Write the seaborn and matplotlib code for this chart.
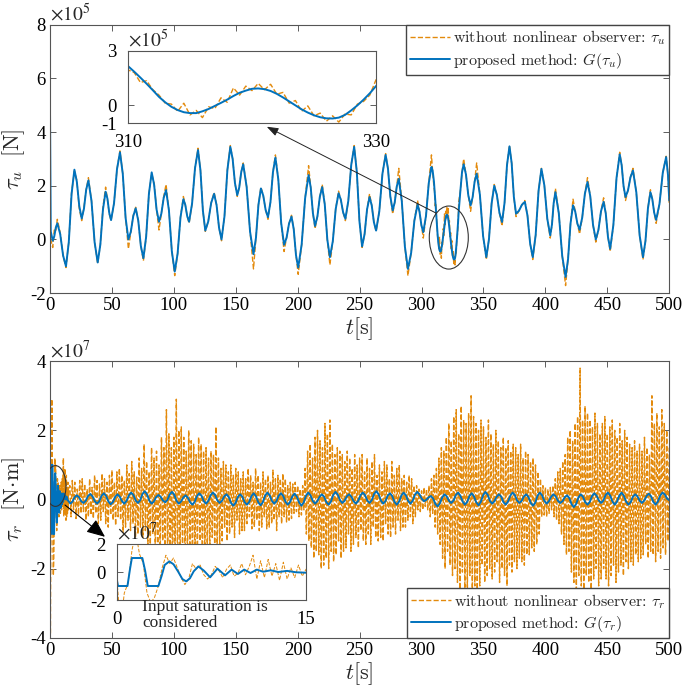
import numpy as np
import matplotlib
matplotlib.use("Agg")
import matplotlib.pyplot as plt
import seaborn as sns
from matplotlib.patches import Ellipse

sns.set_style("ticks")
plt.rcParams['font.family'] = ['Liberation Serif', 'DejaVu Serif']
plt.rcParams['mathtext.fontset'] = 'cm'
plt.rcParams['axes.unicode_minus'] = False

ORANGE = '#E38A0C'
BLUE = '#0072BD'

# ---------------- top panel: tau_u (units of 1e5 N), both series share the time grid ----------------
t_u = [
    0, 0.6, 2.2, 3.43, 4.67, 5.9, 8.23, 10.57, 12.9, 15.17,
    17.43, 19.7, 21.67, 23.63, 25.6, 27.4, 29.2, 31, 33.5, 36,
    38.5, 40.63, 42.77, 44.9, 46.37, 47.83, 49.3, 51.7, 54.1, 56.5,
    58.77, 61.03, 63.3, 65.27, 67.23, 69.2, 71.27, 73.33, 75.4, 77.63,
    79.87, 82.1, 84.07, 86.03, 88, 89.9, 91.8, 93.7, 96.03, 98.37,
    100.7, 103.03, 105.37, 107.7, 109.23, 110.77, 112.3, 114.7, 117.1, 119.5,
    121.47, 123.43, 125.4, 127.77, 130.13, 132.5, 134.5, 136.5, 138.5, 140.87,
    143.23, 145.6, 147.47, 149.33, 151.2, 152.8, 154.4, 156, 158.77, 161.53,
    164.3, 166.3, 168.3, 170.3, 172.2, 174.1, 176, 178, 180, 182,
    184.33, 186.67, 189, 191, 193, 195, 196.8, 198.6, 200.4, 203.2,
    206, 208.8, 210.53, 212.27, 214, 215.93, 217.87, 219.8, 221.87, 223.93,
    226, 228.33, 230.67, 233, 234.83, 236.67, 238.5, 240.87, 243.23, 245.6,
    247.73, 249.87, 252, 254, 256, 258, 259.77, 261.53, 263.3, 265.87,
    268.43, 271, 272.9, 274.8, 276.7, 278.33, 279.97, 281.6, 284.07, 286.53,
    289, 291.6, 294.2, 296.8, 298.33, 299.87, 301.4, 303.6, 305.8, 308,
    309, 310.0, 310.5, 311.0, 311.5, 312.0, 312.5, 313.0, 313.5, 314.0,
    314.5, 315.0, 315.5, 316.0, 316.5, 317.0, 317.5, 318.0, 318.5, 319.0,
    319.5, 320.0, 320.5, 321.0, 321.5, 322.0, 322.5, 323.0, 323.5, 324.0,
    324.5, 325.0, 325.5, 326.0, 326.5, 327.0, 327.5, 328.0, 328.5, 329.0,
    329.5, 330.0, 331.33, 332.67, 334, 335.87, 337.73, 339.6, 341.23, 342.87,
    344.5, 347.1, 349.7, 352.3, 354.43, 356.57, 358.7, 360.8, 362.9, 365,
    367, 369, 371, 372.77, 374.53, 376.3, 378.67, 381.03, 383.4, 385.53,
    387.67, 389.8, 392.13, 394.47, 396.8, 399.17, 401.53, 403.9, 405.3, 406.7,
    408.1, 410.83, 413.57, 416.3, 418.3, 420.3, 422.3, 424.07, 425.83, 427.6,
    429.73, 431.87, 434, 436.23, 438.47, 440.7, 442.8, 444.9, 447, 448.77,
    450.53, 452.3, 454.87, 457.43, 460, 461.57, 463.13, 464.7, 466.7, 468.7,
    470.7, 473.4, 476.1, 478.8, 480.8, 482.8, 484.8, 486.33, 487.87, 489.4,
    492.1, 494.8, 497.5, 499, 500]
tau_u_prop = [
    4.8, 0.3, -0.05, 0.11, 0.44, 0.6, 0.2, -0.6, -1.0, -0.1,
    1.7, 2.6, 2.15, 1.24, 0.78, 1.14, 1.85, 2.2, 1.44, -0.1,
    -0.86, -0.2, 1.12, 1.78, 1.52, 0.99, 0.72, 1.35, 2.62, 3.25,
    2.44, 0.81, 0.0, 0.29, 0.87, 1.16, 0.7, -0.24, -0.7, 0.1,
    1.7, 2.5, 2.04, 1.12, 0.66, 0.96, 1.55, 1.84, 1.08, -0.44,
    -1.2, -0.53, 0.83, 1.5, 1.29, 0.87, 0.66, 1.33, 2.66, 3.33,
    2.58, 1.08, 0.33, 0.67, 1.36, 1.7, 1.28, 0.43, 0.0, 0.86,
    2.59, 3.45, 3.0, 2.1, 1.65, 1.94, 2.51, 2.8, 1.96, 0.29,
    -0.55, 0.06, 1.29, 1.9, 1.63, 1.1, 0.83, 1.39, 2.5, 3.05,
    2.24, 0.61, -0.2, 0.06, 0.59, 0.85, 0.38, -0.58, -1.05, -0.19,
    1.54, 2.4, 1.93, 0.98, 0.5, 0.86, 1.59, 1.95, 1.3, -0.01,
    -0.66, -0.07, 1.13, 1.72, 1.48, 1.01, 0.77, 1.44, 2.78, 3.45,
    2.52, 0.67, -0.26, 0.2, 1.12, 1.58, 1.27, 0.64, 0.33, 1.04,
    2.45, 3.15, 2.63, 1.6, 1.08, 1.38, 1.97, 2.26, 1.42, -0.26,
    -1.1, -0.5, 0.7, 1.3, 1.04, 0.53, 0.27, 0.88, 2.09, 2.7,
    2.55, 2.16, 1.85, 1.52, 1.18, 0.82, 0.45, 0.15, -0.1, -0.28,
    -0.4, -0.45, -0.45, -0.35, -0.22, -0.05, 0.12, 0.3, 0.5, 0.68,
    0.8, 0.9, 0.92, 0.88, 0.78, 0.62, 0.42, 0.2, -0.02, -0.24,
    -0.42, -0.57, -0.68, -0.74, -0.75, -0.7, -0.55, -0.3, -0.02, 0.3,
    0.65, 1.05, 1.8, 2.5, 2.8, 2.42, 1.65, 1.27, 1.57, 2.16,
    2.45, 1.67, 0.12, -0.66, 0.01, 1.34, 2.0, 1.66, 0.99, 0.65,
    1.36, 2.77, 3.47, 2.84, 1.59, 0.96, 1.07, 1.29, 1.4, 0.89,
    -0.15, -0.66, 0.16, 1.81, 2.63, 2.01, 0.77, 0.15, 0.55, 1.36,
    1.76, 0.97, -0.61, -1.4, -0.73, 0.6, 1.27, 1.04, 0.59, 0.36,
    0.81, 1.7, 2.14, 1.61, 0.54, 0.0, 0.35, 1.05, 1.4, 0.96,
    0.09, -0.35, 0.53, 2.29, 3.17, 2.77, 1.98, 1.58, 1.83, 2.32,
    2.57, 1.76, 0.15, -0.66, -0.06, 1.16, 1.76, 1.5, 0.99, 0.73,
    1.32, 2.49, 3.07, 2.4, 1.45]
tau_u_obs = [
    0.3, 0.0, -0.3, 0.35, 0.3, 0.75, 0.25, -0.6, -1.05, -0.1,
    1.75, 2.55, 2.2, 1.15, 0.7, 1.2, 1.85, 2.3, 1.44, -0.1,
    -0.9, -0.2, 1.2, 1.95, 1.5, 0.95, 0.7, 1.35, 2.62, 3.3,
    2.44, 0.81, -0.35, 0.29, 0.9, 1.2, 0.7, -0.24, -0.8, 0.1,
    1.7, 2.45, 2.1, 1.12, 0.35, 0.96, 1.6, 2.05, 1.08, -0.44,
    -1.35, -0.53, 0.83, 1.6, 1.29, 0.87, 0.6, 1.33, 2.66, 3.4,
    2.58, 1.08, 0.3, 0.67, 1.36, 1.75, 1.28, 0.43, -0.05, 0.86,
    2.59, 3.5, 3.0, 2.1, 1.6, 1.94, 2.51, 2.85, 1.96, 0.29,
    -1.1, 0.06, 1.29, 1.95, 1.63, 1.1, 0.75, 1.39, 2.5, 3.15,
    2.24, 0.61, -0.45, 0.06, 0.59, 0.9, 0.38, -0.58, -1.3, -0.19,
    1.54, 2.75, 1.93, 0.98, 0.4, 0.86, 1.59, 2.05, 1.3, -0.01,
    -0.95, -0.07, 1.13, 1.8, 1.48, 1.01, 0.7, 1.44, 2.78, 3.5,
    2.52, 0.67, -0.3, 0.2, 1.12, 1.7, 1.27, 0.64, 0.3, 1.04,
    2.45, 3.2, 2.63, 1.6, 0.95, 1.38, 1.97, 2.65, 1.42, -0.26,
    -1.35, -0.5, 0.7, 1.45, 1.04, 0.53, 0.05, 0.88, 2.09, 3.15,
    2.5, 1.95, 1.8, 1.25, 1.35, 0.85, 0.55, 0.1, 0.05, -0.35,
    0.1, -0.55, -0.3, -0.7, -0.1, -0.2, 0.4, 0.15, 0.95, 0.55,
    1.05, 0.8, 1.2, 0.85, 1.15, 0.6, 0.7, 0.1, 0.25, -0.35,
    -0.05, -0.6, -0.45, -0.9, -0.6, -0.95, -0.5, -0.55, 0.05, 0.2,
    0.55, 1.4, 1.8, 2.5, 3.0, 2.42, 1.65, 1.05, 1.57, 2.16,
    2.85, 1.67, 0.12, -0.75, 0.01, 1.34, 2.05, 1.66, 0.99, 0.5,
    1.36, 2.77, 3.5, 2.84, 1.59, 0.85, 1.07, 1.29, 1.45, 0.89,
    -0.15, -0.75, 0.16, 1.81, 2.65, 2.01, 0.77, 0.05, 0.55, 1.36,
    1.9, 0.97, -0.61, -1.72, -0.73, 0.6, 1.5, 1.04, 0.59, 0.2,
    0.81, 1.7, 2.3, 1.61, 0.54, -0.1, 0.35, 1.05, 1.55, 0.96,
    0.09, -0.45, 0.53, 2.29, 3.25, 2.77, 1.98, 1.45, 1.83, 2.32,
    2.65, 1.76, 0.15, -0.75, -0.06, 1.16, 1.85, 1.5, 0.99, 0.6,
    1.32, 2.49, 3.1, 2.4, 1.3]

# ---------------- bottom panel: tau_r (units of 1e7 N.m) ----------------
t_r_prop = [
    0, 0.1, 0.85, 1.05, 1.2, 2.03, 2.25, 2.46, 3.3, 3.55,
    3.8, 4.17, 4.5, 4.85, 5.2, 5.5, 5.8, 6.1, 6.47, 6.9,
    7.4, 7.98, 8.58, 9.1, 9.6, 10.1, 10.6, 11.1, 11.6, 12.2,
    12.8, 13.5, 14.2, 15,
    16.5, 18.17, 19.83, 21.5, 23.33, 25.17, 27, 28.83, 30.67,
    32.5, 34.33, 36.17, 38, 39.83, 41.67, 43.5, 45.33, 47.17,
    49, 50.83, 52.67, 54.5, 56.33, 58.17, 60, 61.83, 63.67,
    65.5, 67.33, 69.17, 71, 72.83, 74.67, 76.5, 78.33, 80.17,
    82, 83.83, 85.67, 87.5, 89.33, 91.17, 93, 94.83, 96.67,
    98.5, 100.33, 102.17, 104, 105.83, 107.67, 109.5, 111.33, 113.17,
    115, 116.83, 118.67, 120.5, 122.33, 124.17, 126, 127.83, 129.67,
    131.5, 133.33, 135.17, 137, 138.83, 140.67, 142.5, 144.33, 146.17,
    148, 149.83, 151.67, 153.5, 155.33, 157.17, 159, 160.83, 162.67,
    164.5, 166.33, 168.17, 170, 171.83, 173.67, 175.5, 177.33, 179.17,
    181, 182.83, 184.67, 186.5, 188.33, 190.17, 192, 193.83, 195.67,
    197.5, 199.33, 201.17, 203, 204.83, 206.67, 208.5, 210.33, 212.17,
    214, 215.83, 217.67, 219.5, 221.33, 223.17, 225, 226.83, 228.67,
    230.5, 232.33, 234.17, 236, 237.83, 239.67, 241.5, 243.33, 245.17,
    247, 248.83, 250.67, 252.5, 254.33, 256.17, 258, 259.83, 261.67,
    263.5, 265.33, 267.17, 269, 270.83, 272.67, 274.5, 276.33, 278.17,
    280, 281.83, 283.67, 285.5, 287.33, 289.17, 291, 292.83, 294.67,
    296.5, 298.33, 300.17, 302, 303.83, 305.67, 307.5, 309.33, 311.17,
    313, 314.83, 316.67, 318.5, 320.33, 322.17, 324, 325.83, 327.67,
    329.5, 331.33, 333.17, 335, 336.83, 338.67, 340.5, 342.33, 344.17,
    346, 347.83, 349.67, 351.5, 353.33, 355.17, 357, 358.83, 360.67,
    362.5, 364.33, 366.17, 368, 369.83, 371.67, 373.5, 375.33, 377.17,
    379, 380.83, 382.67, 384.5, 386.33, 388.17, 390, 391.83, 393.67,
    395.5, 397.33, 399.17, 401, 402.83, 404.67, 406.5, 408.33, 410.17,
    412, 413.83, 415.67, 417.5, 419.33, 421.17, 423, 424.83, 426.67,
    428.5, 430.33, 432.17, 434, 435.83, 437.67, 439.5, 441.33, 443.17,
    445, 446.83, 448.67, 450.5, 452.33, 454.17, 456, 457.83, 459.67,
    461.5, 463.33, 465.17, 467, 468.83, 470.67, 472.5, 474.33, 476.17,
    478, 479.83, 481.67, 483.5, 485.33, 487.17, 489, 490.83, 492.67,
    494.5, 496.33, 498.17, 500]
tau_r_prop = [
    -0.5, -1.0, -1.0, 0.2, 1.0, 1.0, 0.1, -1.0, -1.0, -0.3,
    0.5, 0.76, 0.55, 0.05, -0.5, -0.67, -0.45, 0.05, 0.4, 0.1,
    -0.38, 0.24, -0.24, 0.17, -0.14, 0.17, -0.07, 0.17, 0.02, 0.12,
    0.0, 0.08, -0.02, -0.05,
    -0.12, -0.06, 0.06, 0.12, 0.07, -0.05, -0.1, -0.04, 0.1,
    0.16, 0.09, -0.05, -0.12, -0.05, 0.11, 0.18, 0.1, -0.06,
    -0.14, -0.07, 0.08, 0.15, 0.08, -0.05, -0.12, -0.04, 0.12,
    0.2, 0.13, -0.03, -0.1, -0.02, 0.16, 0.24, 0.15, -0.03,
    -0.12, -0.06, 0.07, 0.13, 0.08, -0.03, -0.08, -0.01, 0.15,
    0.22, 0.14, -0.04, -0.12, -0.06, 0.06, 0.12, 0.05, -0.08,
    -0.15, -0.07, 0.1, 0.18, 0.11, -0.05, -0.12, -0.04, 0.12,
    0.2, 0.13, -0.03, -0.1, -0.04, 0.09, 0.15, 0.07, -0.1,
    -0.18, -0.1, 0.07, 0.15, 0.08, -0.08, -0.15, -0.07, 0.1,
    0.18, 0.09, -0.08, -0.17, -0.08, 0.11, 0.2, 0.12, -0.04,
    -0.12, -0.05, 0.11, 0.18, 0.1, -0.07, -0.15, -0.07, 0.09,
    0.17, 0.08, -0.09, -0.18, -0.09, 0.11, 0.2, 0.12, -0.04,
    -0.12, -0.05, 0.08, 0.15, 0.08, -0.08, -0.15, -0.06, 0.13,
    0.22, 0.14, -0.02, -0.1, -0.04, 0.09, 0.15, 0.08, -0.05,
    -0.12, -0.04, 0.12, 0.2, 0.13, -0.03, -0.1, -0.02, 0.16,
    0.24, 0.15, -0.03, -0.12, -0.05, 0.11, 0.18, 0.1, -0.07,
    -0.15, -0.06, 0.11, 0.2, 0.12, -0.04, -0.12, -0.04, 0.14,
    0.22, 0.15, 0.02, -0.05, -0.01, 0.06, 0.1, 0.03, -0.13,
    -0.2, -0.11, 0.06, 0.15, 0.09, -0.04, -0.1, -0.03, 0.13,
    0.2, 0.11, -0.06, -0.15, -0.07, 0.1, 0.18, 0.09, -0.08,
    -0.17, -0.07, 0.12, 0.22, 0.14, -0.04, -0.12, -0.05, 0.08,
    0.15, 0.08, -0.08, -0.15, -0.06, 0.11, 0.2, 0.13, -0.03,
    -0.1, -0.04, 0.09, 0.15, 0.07, -0.1, -0.18, -0.09, 0.11,
    0.2, 0.12, -0.04, -0.12, -0.05, 0.08, 0.15, 0.09, -0.04,
    -0.1, -0.05, 0.07, 0.12, 0.04, -0.14, -0.22, -0.13, 0.06,
    0.15, 0.08, -0.08, -0.15, -0.07, 0.1, 0.18, 0.11, -0.03,
    -0.1, -0.03, 0.13, 0.2, 0.11, -0.06, -0.15, -0.06, 0.11,
    0.2, 0.11, -0.06, -0.15, -0.08, 0.08, 0.15, 0.09, -0.04,
    -0.1, -0.03, 0.1, 0.17, 0.09, -0.07, -0.15, -0.06, 0.11,
    0.2, 0.15, 0.03, -0.02]

# observer-free torque: fine samples in the first 15 s, then one per second
t_r_obs_fine = np.round(np.arange(0, 15.01, 0.3), 1)
tau_r_obs_fine = [-0.3, -3.9, -1.5, -0.8, 1.5, 2.9, 1.3, 0.6, -1.5, -2.2, -1.8, -1.0, 0.3, 1.2, 0.6,
                  1.0, 0.3, -0.4, -0.9, -0.5, 0.6, 0.2, 0.5, -0.2, -0.5, -0.2, 0.4, 0.1, -0.4, 0.2,
                  0.5, -0.3, -0.1, 0.6, -0.2, 0.4, 1.2, -0.5, 0.8, -0.4, 0.9, -0.3, 0.6, -0.6, 0.7,
                  -0.5, 0.3, -0.4, 0.5, -0.3, 0.2]
t_r_obs_coarse = np.arange(16, 501, 1)
tau_r_obs_coarse = [
    0.4, -0.5, 0.55, -0.3, 0.5, -0.55, 0.3, -0.45, 0.55, -0.4,
    0.6, -0.35, 0.45, -0.6, 0.3, -0.5, 0.6, -0.45, 0.35, -0.55,
    0.7, -0.4, 0.55, -0.7, 0.45, -0.6, 0.75, -0.35, 0.6, -0.7,
    0.5, -0.8, 0.7, -0.45, 0.85, -0.6, 0.5, -0.75, 0.8, -0.5,
    0.9, -0.6, 0.7, -0.95, 0.55, -0.8, 1.0, -0.6, 0.75, -0.9,
    1.1, -0.7, 0.8, -1.1, 0.65, -1.0, 1.2, -0.8, 0.9, -1.1,
    1.6, -0.9, 1.1, -1.4, 0.8, -1.3, 1.5, -1.0, 1.2, -1.5,
    1.4, -1.8, 1.0, -1.6, 1.8, -1.2, 1.5, -2.0, 2.6, -1.7,
    1.9, -2.2, 1.5, -2.4, 1.8, -1.9, 2.9, -2.3, 2.0, -1.8,
    2.1, -1.6, 1.8, -2.0, 1.4, -1.9, 2.0, -1.5, 1.7, -2.1,
    1.6, -1.8, 1.3, -1.7, 1.8, -1.2, 1.6, -1.9, 1.4, -1.6,
    1.5, -1.3, 1.2, -1.6, 1.4, -1.1, 1.3, -1.5, 2.1, -1.4,
    1.2, -1.3, 0.9, -1.2, 1.1, -0.8, 1.0, -1.2, 0.8, -1.0,
    1.0, -0.8, 0.7, -1.1, 0.9, -0.6, 0.8, -1.0, 0.6, -0.9,
    0.8, -0.9, 0.6, -0.7, 0.9, -0.5, 0.7, -0.85, 0.5, -0.8,
    0.9, -0.6, 0.7, -0.9, 0.5, -0.8, 0.8, -0.5, 0.6, -0.85,
    0.7, -0.8, 0.5, -0.7, 0.85, -0.6, 0.6, -0.9, 0.7, -0.5,
    0.6, -0.7, 0.75, -0.5, 0.6, -0.65, 0.4, -0.6, 0.5, -0.55,
    0.45, -0.4, 0.5, -0.35, 0.4, -0.5, 0.3, -0.45, 0.4, -0.3,
    0.9, -1.0, 1.4, -1.2, 1.6, -1.4, 1.2, -1.7, 1.8, -1.5,
    2.0, -1.6, 1.7, -2.0, 1.5, -1.9, 2.2, -1.7, 1.9, -2.0,
    2.3, -1.5, 1.6, -1.8, 1.3, -1.6, 1.5, -1.2, 1.4, -1.7,
    1.3, -1.5, 1.1, -1.4, 1.4, -1.0, 1.2, -1.5, 0.9, -1.3,
    1.3, -1.1, 1.0, -1.4, 1.2, -0.9, 1.3, -1.2, 0.8, -1.3,
    1.2, -1.0, 0.9, -1.3, 1.1, -0.8, 1.3, -1.1, 0.7, -1.2,
    1.0, -1.1, 0.8, -1.2, 1.1, -0.7, 1.0, -1.0, 0.6, -1.1,
    1.1, -0.8, 0.7, -1.0, 0.9, -0.6, 1.0, -0.9, 0.6, -0.8,
    0.7, -0.8, 0.5, -0.6, 0.7, -0.5, 0.6, -0.7, 0.4, -0.5,
    0.4, -0.3, 0.3, -0.35, 0.25, -0.3, 0.35, -0.2, 0.3, -0.3,
    0.4, -0.5, 0.6, -0.4, 0.7, -0.8, 0.9, -1.0, 1.2, -1.3,
    1.5, -1.7, 1.4, -2.0, 1.8, -1.5, 2.2, -1.9, 1.7, -2.2,
    2.4, -2.0, 2.6, -2.4, 1.9, -2.6, 2.7, -2.1, 2.3, -2.7,
    2.2, -2.6, 2.5, -2.2, 3.0, -2.7, 2.4, -2.5, 2.2, -2.6,
    2.0, -2.5, 2.3, -1.9, 2.1, -2.4, 1.8, -2.2, 2.3, -2.0,
    1.9, -2.3, 1.6, -2.1, 2.0, -1.8, 1.7, -2.4, 1.5, -2.0,
    1.8, -2.2, 1.5, -2.5, 1.7, -1.9, 1.4, -2.1, 1.6, -1.8,
    1.5, -2.0, 1.3, -1.7, 1.6, -1.8, 1.2, -1.9, 1.4, -1.6,
    1.3, -1.6, 1.1, -1.4, 1.2, -1.5, 1.0, -1.3, 0.8, -1.0,
    0.6, -0.5, 0.4, -0.45, 0.35, -0.5, 0.3, -0.4, 0.35, -0.3,
    0.4, -0.5, 0.6, -0.6, 0.8, -0.7, 0.9, -1.0, 1.1, -1.3,
    1.3, -1.6, 1.8, -1.5, 2.0, -2.1, 1.7, -2.4, 2.2, -2.6,
    2.4, -2.2, 3.8, -2.5, 2.3, -2.6, 2.7, -2.2, 2.5, -2.4,
    2.3, -2.6, 2.1, -2.3, 2.5, -2.0, 2.2, -2.5, 1.9, -2.3,
    2.2, -2.0, 2.4, -2.3, 1.9, -2.5, 2.1, -2.2, 2.3, -1.9,
    2.0, -2.4, 1.8, -2.1, 2.2, -1.9, 1.7, -2.2, 2.0, -1.8,
    1.8, -2.0, 1.6, -1.8, 1.5, -1.9, 1.7, -1.6, 1.4, -1.8,
    1.6, -1.7, 1.4, -1.6, 1.8, -1.3, 1.5, -1.7, 1.3, -1.5,
    3.0, -1.6, 2.2, -1.8, 2.5, -1.5, 2.1, -1.7, 2.6, -1.4,
    2.2, -1.6, 2.0, -1.2, 1.5]

assert len(t_u) == len(tau_u_prop) == len(tau_u_obs)
assert len(t_r_prop) == len(tau_r_prop)
assert len(t_r_obs_coarse) == len(tau_r_obs_coarse)

t_r_obs = np.concatenate([t_r_obs_fine, t_r_obs_coarse])
tau_r_obs = np.array(tau_r_obs_fine + tau_r_obs_coarse)

lbl_obs_u = r'without nonlinear observer: $\tau_u$'
lbl_prop_u = r'proposed method: $G(\tau_u)$'
lbl_obs_r = r'without nonlinear observer: $\tau_r$'
lbl_prop_r = r'proposed method: $G(\tau_r)$'


def style(ax, pad=3):
    ax.tick_params(direction='in', top=True, right=True, labelsize=13.5, length=4,
                   width=0.6, color='#444444', labelcolor='black', pad=pad)
    for s in ax.spines.values():
        s.set_linewidth(0.8)
        s.set_color('#555555')


def draw(ax, t_obs, v_obs, t_prop, v_prop, lbls=None, lw_o=1.0, lw_b=1.4):
    sns.lineplot(x=t_obs, y=v_obs, ax=ax, color=ORANGE, linestyle='--', lw=lw_o,
                 sort=False, estimator=None, label=lbls[0] if lbls else None)
    sns.lineplot(x=t_prop, y=v_prop, ax=ax, color=BLUE, lw=lw_b,
                 sort=False, estimator=None, label=lbls[1] if lbls else None)


def legend(ax, loc):
    ax.legend(loc=loc, prop={'family': 'cmr10', 'size': 11.5}, frameon=True, fancybox=False,
              framealpha=1, edgecolor='#444444', borderaxespad=0, handlelength=2.5,
              handletextpad=0.2, borderpad=0.25, labelspacing=0.2)


fig = plt.figure(figsize=(6.85, 6.88), dpi=100)

# ---- top ----
ax1 = fig.add_axes([0.073, 0.574, 0.904, 0.390])
draw(ax1, t_u, tau_u_obs, t_u, tau_u_prop, (lbl_obs_u, lbl_prop_u))
ax1.set_xlim(0, 500)
ax1.set_ylim(-2, 8)
ax1.set_xticks(range(0, 501, 50))
ax1.set_yticks(range(-2, 9, 2))
style(ax1)
ax1.set_xlabel(r'$t[\mathrm{s}]$', fontsize=16, labelpad=1)
ax1.set_ylabel(r'$\tau_u\ \ [\mathrm{N}]$', fontsize=16, labelpad=2)
ax1.text(0.0, 1.0, r'$\times10^5$', transform=ax1.transAxes, fontsize=14,
         math_fontfamily='stix', va='bottom', ha='left')
legend(ax1, 'upper right')
ax1.add_patch(Ellipse((322, 0.07), 31.5, 2.35, fill=False, ec='#333333', lw=0.8, zorder=5))
ax1.annotate('', xy=(175, 4.2), xytext=(311.8, 0.98),
             arrowprops=dict(arrowstyle='-|>,head_length=0.5,head_width=0.18', lw=0.7,
                             color='#222222', mutation_scale=14, shrinkA=0, shrinkB=0))

ins1 = fig.add_axes([0.1869, 0.8212, 0.3620, 0.1047])
draw(ins1, t_u, tau_u_obs, t_u, tau_u_prop, lw_o=1.0, lw_b=1.4)
ins1.set_xlim(310, 330)
ins1.set_ylim(-1, 3)
ins1.set_xticks([310, 330])
ins1.set_yticks([-1, 0, 3])
style(ins1, pad=8)
ins1.text(0.0, 1.0, r'$\times10^5$', transform=ins1.transAxes, fontsize=14,
          math_fontfamily='stix', va='bottom', ha='left')

# ---- bottom ----
ax2 = fig.add_axes([0.073, 0.073, 0.904, 0.402])
draw(ax2, t_r_obs, tau_r_obs, t_r_prop, tau_r_prop, (lbl_obs_r, lbl_prop_r), lw_o=1.0, lw_b=1.4)
ax2.set_xlim(0, 500)
ax2.set_ylim(-4, 4)
ax2.set_xticks(range(0, 501, 50))
ax2.set_yticks(range(-4, 5, 2))
style(ax2)
ax2.set_xlabel(r'$t[\mathrm{s}]$', fontsize=16, labelpad=1)
ax2.set_ylabel(r'$\tau_r\ \ [\mathrm{N\!\cdot\! m}]$', fontsize=16, labelpad=2)
ax2.text(0.0, 1.0, r'$\times10^7$', transform=ax2.transAxes, fontsize=14,
         math_fontfamily='stix', va='bottom', ha='left')
legend(ax2, 'lower right')
ax2.add_patch(Ellipse((4.4, 0.39), 17, 1.18, fill=False, ec='#333333', lw=0.8, zorder=5))
ax2.annotate('', xy=(44.4, -1.08), xytext=(12.1, -0.16),
             arrowprops=dict(arrowstyle='-|>,head_length=0.7,head_width=0.3', lw=0.8,
                             color='black', mutation_scale=16, shrinkA=0, shrinkB=0))

ins2 = fig.add_axes([0.1704, 0.1279, 0.2764, 0.0814])
draw(ins2, t_r_obs, tau_r_obs, t_r_prop, tau_r_prop, lw_o=0.7, lw_b=1.4)
ins2.set_xlim(0, 15)
ins2.set_ylim(-2, 2)
ins2.set_xticks([0, 15])
ins2.set_yticks([-2, 0, 2])
style(ins2, pad=8)
ins2.text(0.0, 1.0, r'$\times10^7$', transform=ins2.transAxes, fontsize=14,
          math_fontfamily='stix', va='bottom', ha='left')
fig.text(142 / 685, 1 - 599 / 688, 'Input saturation is\nconsidered', fontsize=12.5,
         va='top', ha='left', linespacing=1.0)

fig.savefig('out.png', dpi=100)
